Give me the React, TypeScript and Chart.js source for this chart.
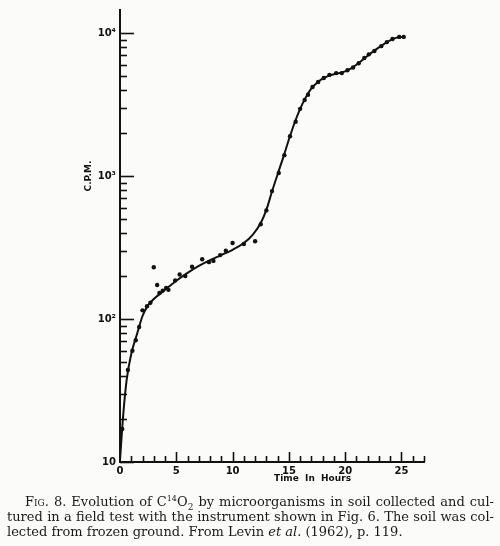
import React, { useEffect, useRef } from "react";
import { Chart, registerables } from "chart.js";

Chart.register(...registerables);

// Smooth fitted curve (hours, C.P.M.)
const curveTimes = [0, 0.3, 0.6, 1.0, 1.5, 2.0, 2.5, 3.0, 4.0, 5.0, 6.0, 7.0, 8.0, 9.0, 10.0, 11.0, 11.8, 12.5, 13.0, 13.5, 14.0, 14.5, 15.0, 15.5, 16.0, 16.5, 17.0, 17.5, 18.0, 18.5, 19.0, 19.5, 20.0, 20.5, 21.0, 21.5, 22.0, 22.5, 23.0, 23.5, 24.0, 24.5, 25.0, 25.3];
const curveCpm = [10.3, 22, 38, 57, 78, 105, 125, 138, 160, 185, 210, 235, 258, 280, 305, 340, 390, 470, 580, 780, 1030, 1350, 1800, 2350, 2950, 3550, 4100, 4500, 4800, 5000, 5150, 5250, 5400, 5650, 6000, 6450, 6950, 7450, 7950, 8450, 8900, 9250, 9400, 9450];

// Measured points
const obsTimes = [0.2, 0.7, 1.1, 1.4, 1.7, 2.0, 2.4, 2.7, 3.0, 3.3, 3.5, 3.8, 4.1, 4.3, 4.9, 5.3, 5.8, 6.4, 7.3, 7.9, 8.3, 8.9, 9.4, 10.0, 11.0, 12.0, 12.5, 13.0, 13.5, 14.1, 14.6, 15.1, 15.6, 16.0, 16.4, 16.7, 17.1, 17.6, 18.1, 18.6, 19.2, 19.7, 20.2, 20.7, 21.2, 21.7, 22.1, 22.6, 23.2, 23.7, 24.2, 24.8, 25.2];
const obsCpm = [17, 44, 60, 71, 88, 115, 123, 130, 230, 173, 152, 158, 165, 160, 186, 205, 200, 232, 262, 250, 255, 280, 300, 340, 335, 350, 460, 575, 785, 1050, 1400, 1900, 2400, 2950, 3400, 3700, 4200, 4550, 4850, 5100, 5250, 5250, 5500, 5750, 6150, 6700, 7100, 7500, 8100, 8650, 9100, 9400, 9400];

const xTickValues = [0, 5, 10, 15, 20, 25];
const xTickLabels = ["0", "5", "10", "15", "20", "25"];
const yTickValues = [10, 100, 1000, 10000];
const yTickLabels = ["10", "10²", "10³", "10⁴"];
const xMin = 0;
const xMax = 27;
const yMin = 10;
const yMax = 14500;
const xTitle = "Time  In  Hours";
const yTitle = "C.P.M.";

const ink = "#111";

const paperPlugin = {
  id: "paperTicks",
  afterDraw(chart: any) {
    const { ctx, scales } = chart;
    const x = scales.x;
    const y = scales.y;
    const left = chart.chartArea.left;
    const bottom = chart.chartArea.bottom;
    ctx.save();
    ctx.strokeStyle = ink;
    ctx.lineWidth = 1.6;
    // y ticks (inside)
    for (let d = 1; d <= 4; d++) {
      const base = Math.pow(10, d);
      for (let m = 1; m <= 9; m++) {
        const v = m * base;
        if (v > yMax) break;
        const py = Math.round(y.getPixelForValue(v)) + 0.5;
        const len = m === 1 ? 14 : 7;
        ctx.beginPath();
        ctx.moveTo(left, py);
        ctx.lineTo(left + len, py);
        ctx.stroke();
      }
    }
    // x ticks (inside)
    for (let t = 1; t <= xMax; t++) {
      const px = Math.round(x.getPixelForValue(t)) + 0.5;
      const len = t % 5 === 0 ? 10 : 6;
      ctx.beginPath();
      ctx.moveTo(px, bottom);
      ctx.lineTo(px, bottom - len);
      ctx.stroke();
    }
    // titles
    ctx.fillStyle = ink;
    ctx.font = "bold 9px 'DejaVu Sans'";
    ctx.textAlign = "center";
    ctx.textBaseline = "middle";
    ctx.fillText(xTitle, x.getPixelForValue(17.1), bottom + 17);
    ctx.translate(left - 31, y.getPixelForValue(1000));
    ctx.rotate(-Math.PI / 2);
    ctx.fillText(yTitle, 0, 0);
    ctx.restore();
  },
};

export default function App() {
  const ref = useRef<HTMLCanvasElement | null>(null);
  useEffect(() => {
    if (!ref.current) return;
    const chart = new Chart(ref.current, {
      type: "line",
      data: {
        datasets: [
          {
            type: "line",
            data: curveTimes.map((t, i) => ({ x: t, y: curveCpm[i] })),
            borderColor: ink,
            borderWidth: 2,
            pointRadius: 0,
            cubicInterpolationMode: "monotone",
            fill: false,
          },
          {
            type: "scatter",
            data: obsTimes.map((t, i) => ({ x: t, y: obsCpm[i] })),
            backgroundColor: ink,
            borderColor: ink,
            pointRadius: 2.2,
            borderWidth: 0,
            showLine: false,
          },
        ],
      },
      options: {
        responsive: false,
        animation: false,
        layout: { padding: { top: 10, right: 76, left: 0, bottom: 0 } },
        plugins: { legend: { display: false }, tooltip: { enabled: false } },
        scales: {
          x: {
            type: "linear",
            min: xMin,
            max: xMax,
            afterFit: (s: any) => {
              s.height = 84;
            },
            afterBuildTicks: (s: any) => {
              s.ticks = xTickValues.map((v) => ({ value: v }));
            },
            grid: { display: false, drawTicks: false },
            border: { display: true, color: ink, width: 2 },
            ticks: {
              padding: 3,
              color: ink,
              font: { family: "'DejaVu Sans'", size: 10, weight: "bold" },
              maxRotation: 0,
              autoSkip: false,
              callback: (v: any) => xTickLabels[xTickValues.indexOf(Number(v))] ?? "",
            },
          },
          y: {
            type: "logarithmic",
            min: yMin,
            max: yMax,
            afterFit: (s: any) => {
              s.width = 120;
            },
            afterBuildTicks: (s: any) => {
              s.ticks = yTickValues.map((v) => ({ value: v }));
            },
            grid: { display: false, drawTicks: false },
            border: { display: true, color: ink, width: 2 },
            ticks: {
              padding: 4,
              color: ink,
              font: { family: "'DejaVu Sans'", size: 10, weight: "bold" },
              autoSkip: false,
              callback: (v: any) => yTickLabels[yTickValues.indexOf(Number(v))] ?? "",
            },
          },
        },
      },
      plugins: [paperPlugin],
    } as any);
    return () => chart.destroy();
  }, []);

  const lineStyle: React.CSSProperties = {
    textAlign: "justify",
    textAlignLast: "justify" as any,
    whiteSpace: "nowrap",
    height: 15,
  };

  return (
    <div
      style={{
        position: "fixed",
        left: 0,
        top: 0,
        width: 500,
        height: 546,
        background: "#fbfbf9",
        overflow: "hidden",
      }}
    >
      <canvas ref={ref} width={500} height={546} style={{ position: "absolute", left: 0, top: 0 }} />
      <div
        style={{
          position: "absolute",
          left: 7,
          top: 494,
          width: 487,
          fontFamily: "'DejaVu Serif', serif",
          fontSize: 13,
          lineHeight: "15px",
          color: "#1a1a1a",
        }}
      >
        <div style={{ ...lineStyle, paddingLeft: 18 }}>
          <span style={{ fontVariant: "small-caps" }}>Fig.</span> 8. Evolution of C
          <sup style={{ fontSize: 8, lineHeight: 0 }}>14</sup>O
          <sub style={{ fontSize: 9, lineHeight: 0 }}>2</sub> by microorganisms in soil collected and cul-
        </div>
        <div style={lineStyle}>
          tured in a field test with the instrument shown in Fig. 6. The soil was col-
        </div>
        <div style={{ height: 15, whiteSpace: "nowrap" }}>
          lected from frozen ground. From Levin <i>et al.</i> (1962), p. 119.
        </div>
      </div>
    </div>
  );
}
